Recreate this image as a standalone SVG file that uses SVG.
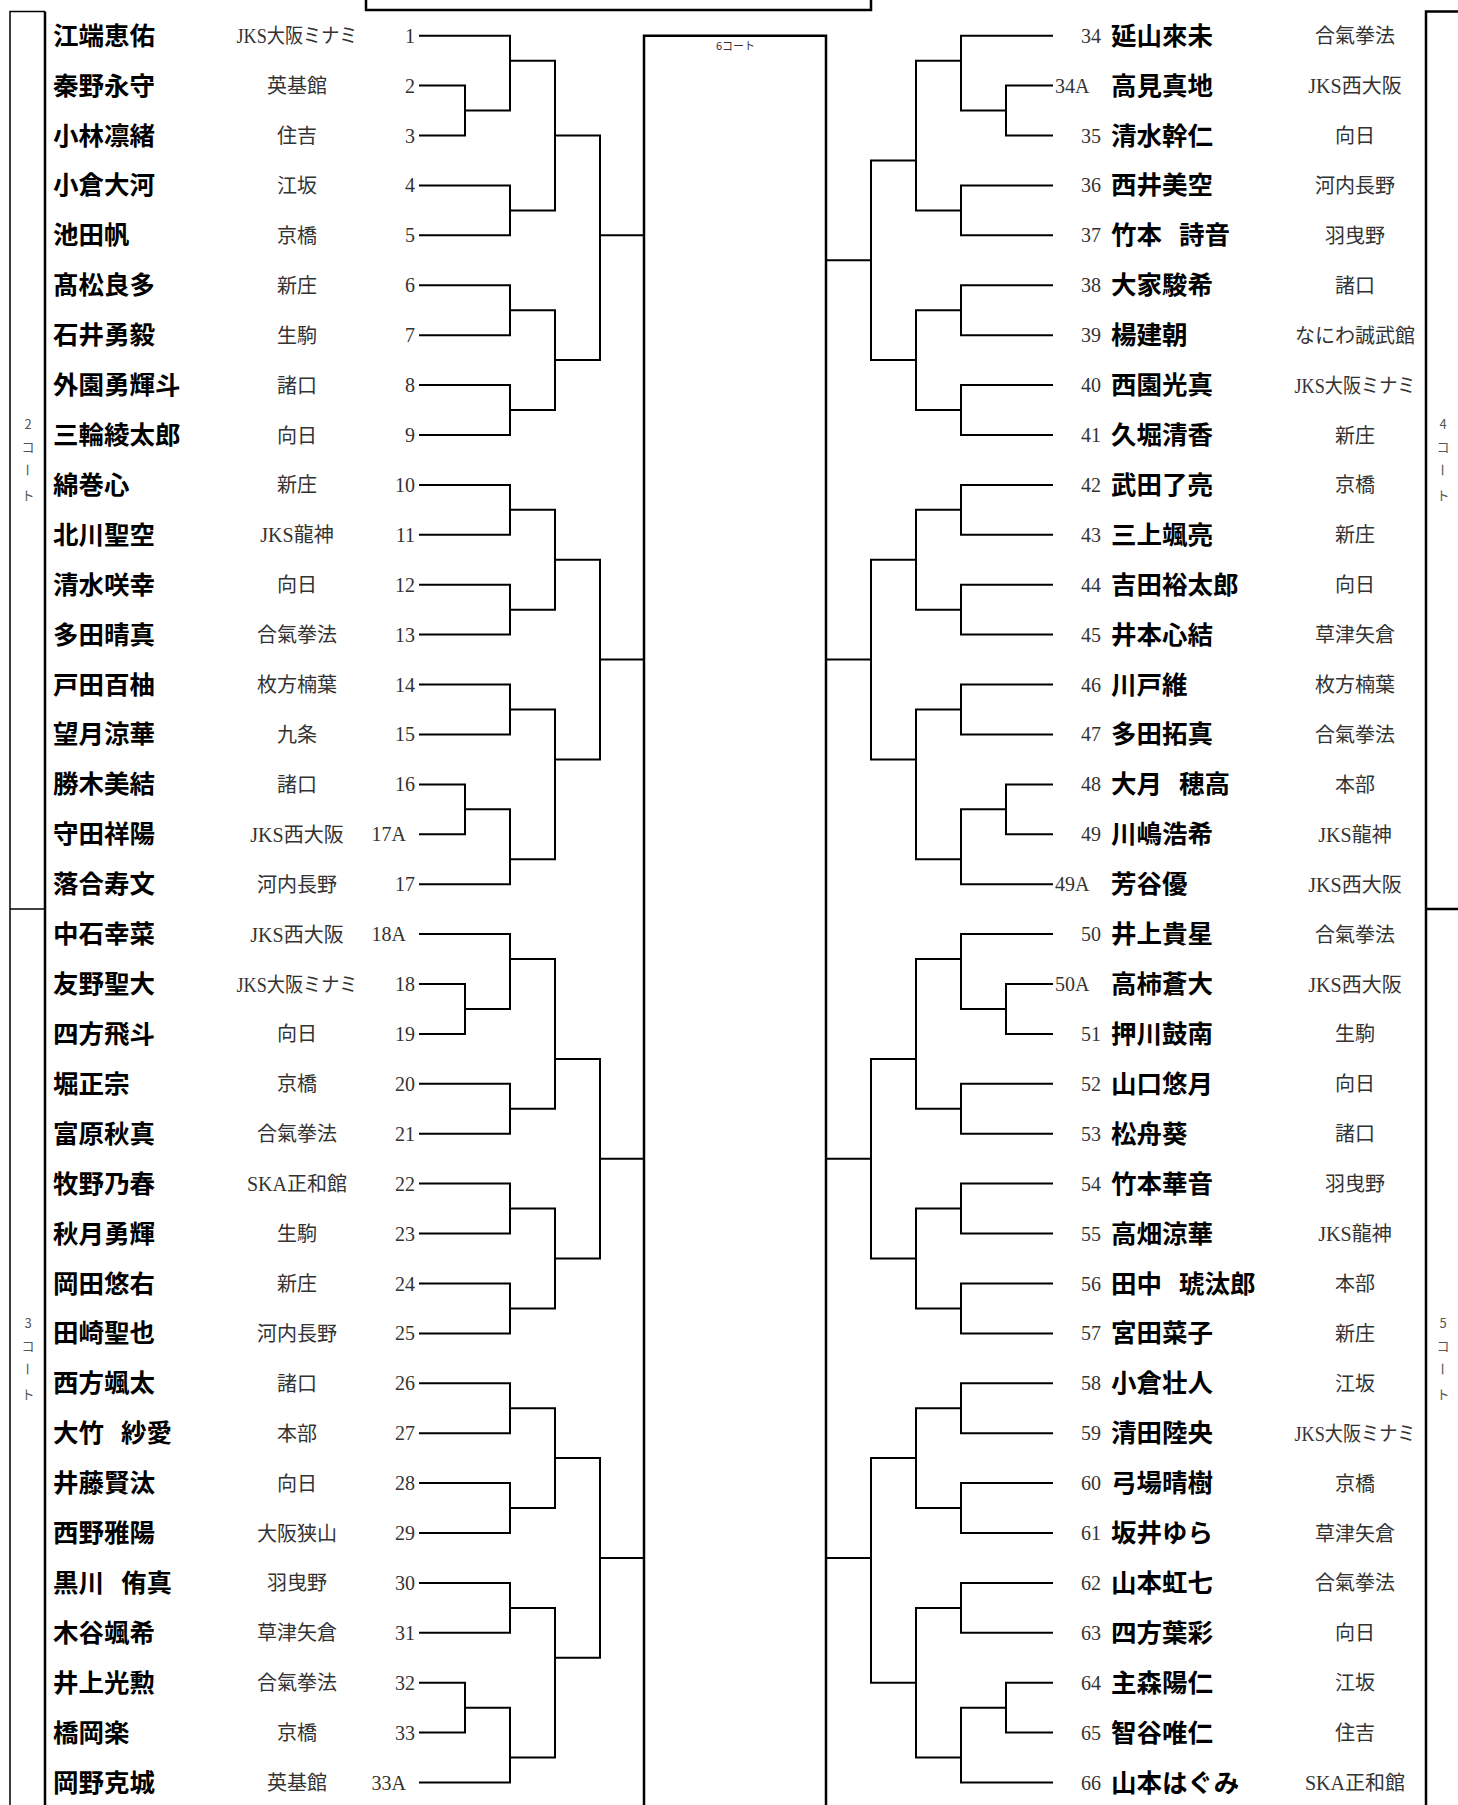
<svg xmlns="http://www.w3.org/2000/svg" width="1458" height="1805" viewBox="0 0 1458 1805">
<style>
.nm{font-family:"Noto Sans CJK JP",sans-serif;font-weight:700;font-size:25.5px;fill:#000}
.cl{font-family:"Liberation Serif","Noto Sans CJK JP",serif;font-size:20px;fill:#333;text-anchor:middle}
.no{font-family:"Liberation Serif",serif;font-size:20px;fill:#333;text-anchor:end}
.ns{font-family:"Liberation Serif",serif;font-size:20px;fill:#333;text-anchor:start}
.ct{font-family:"Noto Sans CJK JP",sans-serif;font-size:13px;fill:#555;text-anchor:middle}
.lbl{font-family:"Noto Sans CJK JP",sans-serif;font-size:11px;fill:#333}
.br{fill:none;stroke:#000;stroke-width:2;stroke-linecap:square}
.fr{fill:none;stroke:#000;stroke-width:2.5}
.fr1{fill:none;stroke:#000;stroke-width:1.5}
.sp{font-size:17px}
</style>
<rect width="1458" height="1805" fill="#fff"/>
<g id="frames">
<rect x="366" y="-50" width="505" height="60" class="fr" stroke-width="3"/>
<path class="fr" d="M644,1805V35.7H826V1805"/>
<path class="fr1" d="M10,1805V11.5H45"/>
<path class="fr" d="M45,11.5V1805"/>
<path class="fr1" d="M10,909H45"/>
<path class="fr" d="M1426,1805V11.5H1458M1426,909H1458"/>
<text class="lbl" x="716" y="50">6コート</text>
<text class="ct"><tspan x="28" y="429">2</tspan><tspan x="28" y="452">コ</tspan><tspan x="23" y="463.5" rotate="90" text-anchor="start">ー</tspan><tspan x="28" y="500">ト</tspan></text>
<text class="ct"><tspan x="28" y="1328">3</tspan><tspan x="28" y="1351">コ</tspan><tspan x="23" y="1362.5" rotate="90" text-anchor="start">ー</tspan><tspan x="28" y="1399">ト</tspan></text>
<text class="ct"><tspan x="1443" y="429">4</tspan><tspan x="1443" y="452">コ</tspan><tspan x="1438" y="463.5" rotate="90" text-anchor="start">ー</tspan><tspan x="1443" y="500">ト</tspan></text>
<text class="ct"><tspan x="1443" y="1328">5</tspan><tspan x="1443" y="1351">コ</tspan><tspan x="1438" y="1362.5" rotate="90" text-anchor="start">ー</tspan><tspan x="1443" y="1399">ト</tspan></text>
</g>
<g id="connectors">
<path class="br" d="M420,85.6H465V135.5H420M465,110.6H510M420,35.7H510V110.6M510,60.7H555M420,185.4H510V235.3H420M510,210.4H555M555,60.7V210.4M555,135.5H600M420,285.3H510V335.2H420M510,310.2H555M420,385.1H510V435H420M510,410H555M555,310.2V410M555,360.1H600M600,135.5V360.1M600,235.3H644"/>
<path class="br" d="M420,484.9H510V534.8H420M510,509.8H555M420,584.7H510V634.6H420M510,609.7H555M555,509.8V609.7M555,559.7H600M420,684.5H510V734.4H420M510,709.5H555M420,784.4H465V834.3H420M465,809.3H510M420,884.2H510V809.3M510,859.2H555M555,709.5V859.2M555,759.4H600M600,559.7V759.4M600,659.6H644"/>
<path class="br" d="M420,984H465V1033.9H420M465,1009H510M420,934.1H510V1009M510,959H555M420,1083.8H510V1133.7H420M510,1108.8H555M555,959V1108.8M555,1058.9H600M420,1183.6H510V1233.5H420M510,1208.6H555M420,1283.5H510V1333.4H420M510,1308.4H555M555,1208.6V1308.4M555,1258.5H600M600,1058.9V1258.5M600,1158.7H644"/>
<path class="br" d="M420,1383.3H510V1433.2H420M510,1408.2H555M420,1483.1H510V1533H420M510,1508.1H555M555,1408.2V1508.1M555,1458.1H600M420,1582.9H510V1632.8H420M510,1607.9H555M420,1682.7H465V1732.6H420M465,1707.7H510M420,1782.6H510V1707.7M510,1757.6H555M555,1607.9V1757.6M555,1657.8H600M600,1458.1V1657.8M600,1558H644"/>
<path class="br" d="M1052,85.6H1006V135.5H1052M1006,110.6H961M1052,35.7H961V110.6M961,60.7H916M1052,185.4H961V235.3H1052M961,210.4H916M916,60.7V210.4M916,160.5H871M1052,285.3H961V335.2H1052M961,310.2H916M1052,385.1H961V435H1052M961,410H916M916,310.2V410M916,360.1H871M871,160.5V360.1M871,260.3H826"/>
<path class="br" d="M1052,484.9H961V534.8H1052M961,509.8H916M1052,584.7H961V634.6H1052M961,609.7H916M916,509.8V609.7M916,559.7H871M1052,684.5H961V734.4H1052M961,709.5H916M1052,784.4H1006V834.3H1052M1006,809.3H961M1052,884.2H961V809.3M961,859.2H916M916,709.5V859.2M916,759.4H871M871,559.7V759.4M871,659.6H826"/>
<path class="br" d="M1052,984H1006V1033.9H1052M1006,1009H961M1052,934.1H961V1009M961,959H916M1052,1083.8H961V1133.7H1052M961,1108.8H916M916,959V1108.8M916,1058.9H871M1052,1183.6H961V1233.5H1052M961,1208.6H916M1052,1283.5H961V1333.4H1052M961,1308.4H916M916,1208.6V1308.4M916,1258.5H871M871,1058.9V1258.5M871,1158.7H826"/>
<path class="br" d="M1052,1383.3H961V1433.2H1052M961,1408.2H916M1052,1483.1H961V1533H1052M961,1508.1H916M916,1408.2V1508.1M916,1458.1H871M1052,1582.9H961V1632.8H1052M961,1607.9H916M1052,1682.7H1006V1732.6H1052M1006,1707.7H961M1052,1782.6H961V1707.7M961,1757.6H916M916,1607.9V1757.6M916,1682.7H871M871,1458.1V1682.7M871,1558H826"/>
</g>
<g id="L1" transform="translate(0,35.7)"><text class="nm" x="53" y="9">江端恵佑</text><text class="cl" x="297" y="7.5" textLength="121" lengthAdjust="spacingAndGlyphs">JKS大阪ミナミ</text><text class="no" x="415" y="7">1</text></g>
<g id="L2" transform="translate(0,85.6)"><text class="nm" x="53" y="9">秦野永守</text><text class="cl" x="297" y="7.5">英基館</text><text class="no" x="415" y="7">2</text></g>
<g id="L3" transform="translate(0,135.5)"><text class="nm" x="53" y="9">小林凛緒</text><text class="cl" x="297" y="7.5">住吉</text><text class="no" x="415" y="7">3</text></g>
<g id="L4" transform="translate(0,185.4)"><text class="nm" x="53" y="9">小倉大河</text><text class="cl" x="297" y="7.5">江坂</text><text class="no" x="415" y="7">4</text></g>
<g id="L5" transform="translate(0,235.3)"><text class="nm" x="53" y="9">池田帆</text><text class="cl" x="297" y="7.5">京橋</text><text class="no" x="415" y="7">5</text></g>
<g id="L6" transform="translate(0,285.3)"><text class="nm" x="53" y="9">髙松良多</text><text class="cl" x="297" y="7.5">新庄</text><text class="no" x="415" y="7">6</text></g>
<g id="L7" transform="translate(0,335.2)"><text class="nm" x="53" y="9">石井勇毅</text><text class="cl" x="297" y="7.5">生駒</text><text class="no" x="415" y="7">7</text></g>
<g id="L8" transform="translate(0,385.1)"><text class="nm" x="53" y="9">外園勇輝斗</text><text class="cl" x="297" y="7.5">諸口</text><text class="no" x="415" y="7">8</text></g>
<g id="L9" transform="translate(0,435)"><text class="nm" x="53" y="9">三輪綾太郎</text><text class="cl" x="297" y="7.5">向日</text><text class="no" x="415" y="7">9</text></g>
<g id="L10" transform="translate(0,484.9)"><text class="nm" x="53" y="9">綿巻心</text><text class="cl" x="297" y="7.5">新庄</text><text class="no" x="415" y="7">10</text></g>
<g id="L11" transform="translate(0,534.8)"><text class="nm" x="53" y="9">北川聖空</text><text class="cl" x="297" y="7.5">JKS龍神</text><text class="no" x="415" y="7">11</text></g>
<g id="L12" transform="translate(0,584.7)"><text class="nm" x="53" y="9">清水咲幸</text><text class="cl" x="297" y="7.5">向日</text><text class="no" x="415" y="7">12</text></g>
<g id="L13" transform="translate(0,634.6)"><text class="nm" x="53" y="9">多田晴真</text><text class="cl" x="297" y="7.5">合氣拳法</text><text class="no" x="415" y="7">13</text></g>
<g id="L14" transform="translate(0,684.5)"><text class="nm" x="53" y="9">戸田百柚</text><text class="cl" x="297" y="7.5">枚方楠葉</text><text class="no" x="415" y="7">14</text></g>
<g id="L15" transform="translate(0,734.4)"><text class="nm" x="53" y="9">望月涼華</text><text class="cl" x="297" y="7.5">九条</text><text class="no" x="415" y="7">15</text></g>
<g id="L16" transform="translate(0,784.4)"><text class="nm" x="53" y="9">勝木美結</text><text class="cl" x="297" y="7.5">諸口</text><text class="no" x="415" y="7">16</text></g>
<g id="L17A" transform="translate(0,834.3)"><text class="nm" x="53" y="9">守田祥陽</text><text class="cl" x="297" y="7.5">JKS西大阪</text><text class="no" x="406" y="7">17A</text></g>
<g id="L17" transform="translate(0,884.2)"><text class="nm" x="53" y="9">落合寿文</text><text class="cl" x="297" y="7.5">河内長野</text><text class="no" x="415" y="7">17</text></g>
<g id="L18A" transform="translate(0,934.1)"><text class="nm" x="53" y="9">中石幸菜</text><text class="cl" x="297" y="7.5">JKS西大阪</text><text class="no" x="406" y="7">18A</text></g>
<g id="L18" transform="translate(0,984)"><text class="nm" x="53" y="9">友野聖大</text><text class="cl" x="297" y="7.5" textLength="121" lengthAdjust="spacingAndGlyphs">JKS大阪ミナミ</text><text class="no" x="415" y="7">18</text></g>
<g id="L19" transform="translate(0,1033.9)"><text class="nm" x="53" y="9">四方飛斗</text><text class="cl" x="297" y="7.5">向日</text><text class="no" x="415" y="7">19</text></g>
<g id="L20" transform="translate(0,1083.8)"><text class="nm" x="53" y="9">堀正宗</text><text class="cl" x="297" y="7.5">京橋</text><text class="no" x="415" y="7">20</text></g>
<g id="L21" transform="translate(0,1133.7)"><text class="nm" x="53" y="9">富原秋真</text><text class="cl" x="297" y="7.5">合氣拳法</text><text class="no" x="415" y="7">21</text></g>
<g id="L22" transform="translate(0,1183.6)"><text class="nm" x="53" y="9">牧野乃春</text><text class="cl" x="297" y="7.5">SKA正和館</text><text class="no" x="415" y="7">22</text></g>
<g id="L23" transform="translate(0,1233.5)"><text class="nm" x="53" y="9">秋月勇輝</text><text class="cl" x="297" y="7.5">生駒</text><text class="no" x="415" y="7">23</text></g>
<g id="L24" transform="translate(0,1283.5)"><text class="nm" x="53" y="9">岡田悠右</text><text class="cl" x="297" y="7.5">新庄</text><text class="no" x="415" y="7">24</text></g>
<g id="L25" transform="translate(0,1333.4)"><text class="nm" x="53" y="9">田崎聖也</text><text class="cl" x="297" y="7.5">河内長野</text><text class="no" x="415" y="7">25</text></g>
<g id="L26" transform="translate(0,1383.3)"><text class="nm" x="53" y="9">西方颯太</text><text class="cl" x="297" y="7.5">諸口</text><text class="no" x="415" y="7">26</text></g>
<g id="L27" transform="translate(0,1433.2)"><text class="nm" x="53" y="9">大竹<tspan class="sp">　</tspan>紗愛</text><text class="cl" x="297" y="7.5">本部</text><text class="no" x="415" y="7">27</text></g>
<g id="L28" transform="translate(0,1483.1)"><text class="nm" x="53" y="9">井藤賢汰</text><text class="cl" x="297" y="7.5">向日</text><text class="no" x="415" y="7">28</text></g>
<g id="L29" transform="translate(0,1533)"><text class="nm" x="53" y="9">西野雅陽</text><text class="cl" x="297" y="7.5">大阪狭山</text><text class="no" x="415" y="7">29</text></g>
<g id="L30" transform="translate(0,1582.9)"><text class="nm" x="53" y="9">黒川<tspan class="sp">　</tspan>侑真</text><text class="cl" x="297" y="7.5">羽曳野</text><text class="no" x="415" y="7">30</text></g>
<g id="L31" transform="translate(0,1632.8)"><text class="nm" x="53" y="9">木谷颯希</text><text class="cl" x="297" y="7.5">草津矢倉</text><text class="no" x="415" y="7">31</text></g>
<g id="L32" transform="translate(0,1682.7)"><text class="nm" x="53" y="9">井上光勲</text><text class="cl" x="297" y="7.5">合氣拳法</text><text class="no" x="415" y="7">32</text></g>
<g id="L33" transform="translate(0,1732.6)"><text class="nm" x="53" y="9">橋岡楽</text><text class="cl" x="297" y="7.5">京橋</text><text class="no" x="415" y="7">33</text></g>
<g id="L33A" transform="translate(0,1782.6)"><text class="nm" x="53" y="9">岡野克城</text><text class="cl" x="297" y="7.5">英基館</text><text class="no" x="406" y="7">33A</text></g>
<g id="R34" transform="translate(0,35.7)"><text class="no" x="1101" y="7">34</text><text class="nm" x="1111" y="9">延山來未</text><text class="cl" x="1355" y="7.5">合氣拳法</text></g>
<g id="R34A" transform="translate(0,85.6)"><text class="ns" x="1055" y="7">34A</text><text class="nm" x="1111" y="9">高見真地</text><text class="cl" x="1355" y="7.5">JKS西大阪</text></g>
<g id="R35" transform="translate(0,135.5)"><text class="no" x="1101" y="7">35</text><text class="nm" x="1111" y="9">清水幹仁</text><text class="cl" x="1355" y="7.5">向日</text></g>
<g id="R36" transform="translate(0,185.4)"><text class="no" x="1101" y="7">36</text><text class="nm" x="1111" y="9">西井美空</text><text class="cl" x="1355" y="7.5">河内長野</text></g>
<g id="R37" transform="translate(0,235.3)"><text class="no" x="1101" y="7">37</text><text class="nm" x="1111" y="9">竹本<tspan class="sp">　</tspan>詩音</text><text class="cl" x="1355" y="7.5">羽曳野</text></g>
<g id="R38" transform="translate(0,285.3)"><text class="no" x="1101" y="7">38</text><text class="nm" x="1111" y="9">大家駿希</text><text class="cl" x="1355" y="7.5">諸口</text></g>
<g id="R39" transform="translate(0,335.2)"><text class="no" x="1101" y="7">39</text><text class="nm" x="1111" y="9">楊建朝</text><text class="cl" x="1355" y="7.5">なにわ誠武館</text></g>
<g id="R40" transform="translate(0,385.1)"><text class="no" x="1101" y="7">40</text><text class="nm" x="1111" y="9">西園光真</text><text class="cl" x="1355" y="7.5" textLength="121" lengthAdjust="spacingAndGlyphs">JKS大阪ミナミ</text></g>
<g id="R41" transform="translate(0,435)"><text class="no" x="1101" y="7">41</text><text class="nm" x="1111" y="9">久堀清香</text><text class="cl" x="1355" y="7.5">新庄</text></g>
<g id="R42" transform="translate(0,484.9)"><text class="no" x="1101" y="7">42</text><text class="nm" x="1111" y="9">武田了亮</text><text class="cl" x="1355" y="7.5">京橋</text></g>
<g id="R43" transform="translate(0,534.8)"><text class="no" x="1101" y="7">43</text><text class="nm" x="1111" y="9">三上颯亮</text><text class="cl" x="1355" y="7.5">新庄</text></g>
<g id="R44" transform="translate(0,584.7)"><text class="no" x="1101" y="7">44</text><text class="nm" x="1111" y="9">吉田裕太郎</text><text class="cl" x="1355" y="7.5">向日</text></g>
<g id="R45" transform="translate(0,634.6)"><text class="no" x="1101" y="7">45</text><text class="nm" x="1111" y="9">井本心結</text><text class="cl" x="1355" y="7.5">草津矢倉</text></g>
<g id="R46" transform="translate(0,684.5)"><text class="no" x="1101" y="7">46</text><text class="nm" x="1111" y="9">川戸維</text><text class="cl" x="1355" y="7.5">枚方楠葉</text></g>
<g id="R47" transform="translate(0,734.4)"><text class="no" x="1101" y="7">47</text><text class="nm" x="1111" y="9">多田拓真</text><text class="cl" x="1355" y="7.5">合氣拳法</text></g>
<g id="R48" transform="translate(0,784.4)"><text class="no" x="1101" y="7">48</text><text class="nm" x="1111" y="9">大月<tspan class="sp">　</tspan>穂高</text><text class="cl" x="1355" y="7.5">本部</text></g>
<g id="R49" transform="translate(0,834.3)"><text class="no" x="1101" y="7">49</text><text class="nm" x="1111" y="9">川嶋浩希</text><text class="cl" x="1355" y="7.5">JKS龍神</text></g>
<g id="R49A" transform="translate(0,884.2)"><text class="ns" x="1055" y="7">49A</text><text class="nm" x="1111" y="9">芳谷優</text><text class="cl" x="1355" y="7.5">JKS西大阪</text></g>
<g id="R50" transform="translate(0,934.1)"><text class="no" x="1101" y="7">50</text><text class="nm" x="1111" y="9">井上貴星</text><text class="cl" x="1355" y="7.5">合氣拳法</text></g>
<g id="R50A" transform="translate(0,984)"><text class="ns" x="1055" y="7">50A</text><text class="nm" x="1111" y="9">高柿蒼大</text><text class="cl" x="1355" y="7.5">JKS西大阪</text></g>
<g id="R51" transform="translate(0,1033.9)"><text class="no" x="1101" y="7">51</text><text class="nm" x="1111" y="9">押川鼓南</text><text class="cl" x="1355" y="7.5">生駒</text></g>
<g id="R52" transform="translate(0,1083.8)"><text class="no" x="1101" y="7">52</text><text class="nm" x="1111" y="9">山口悠月</text><text class="cl" x="1355" y="7.5">向日</text></g>
<g id="R53" transform="translate(0,1133.7)"><text class="no" x="1101" y="7">53</text><text class="nm" x="1111" y="9">松舟葵</text><text class="cl" x="1355" y="7.5">諸口</text></g>
<g id="R54" transform="translate(0,1183.6)"><text class="no" x="1101" y="7">54</text><text class="nm" x="1111" y="9">竹本華音</text><text class="cl" x="1355" y="7.5">羽曳野</text></g>
<g id="R55" transform="translate(0,1233.5)"><text class="no" x="1101" y="7">55</text><text class="nm" x="1111" y="9">高畑涼華</text><text class="cl" x="1355" y="7.5">JKS龍神</text></g>
<g id="R56" transform="translate(0,1283.5)"><text class="no" x="1101" y="7">56</text><text class="nm" x="1111" y="9">田中<tspan class="sp">　</tspan>琥汰郎</text><text class="cl" x="1355" y="7.5">本部</text></g>
<g id="R57" transform="translate(0,1333.4)"><text class="no" x="1101" y="7">57</text><text class="nm" x="1111" y="9">宮田菜子</text><text class="cl" x="1355" y="7.5">新庄</text></g>
<g id="R58" transform="translate(0,1383.3)"><text class="no" x="1101" y="7">58</text><text class="nm" x="1111" y="9">小倉壮人</text><text class="cl" x="1355" y="7.5">江坂</text></g>
<g id="R59" transform="translate(0,1433.2)"><text class="no" x="1101" y="7">59</text><text class="nm" x="1111" y="9">清田陸央</text><text class="cl" x="1355" y="7.5" textLength="121" lengthAdjust="spacingAndGlyphs">JKS大阪ミナミ</text></g>
<g id="R60" transform="translate(0,1483.1)"><text class="no" x="1101" y="7">60</text><text class="nm" x="1111" y="9">弓場晴樹</text><text class="cl" x="1355" y="7.5">京橋</text></g>
<g id="R61" transform="translate(0,1533)"><text class="no" x="1101" y="7">61</text><text class="nm" x="1111" y="9">坂井ゆら</text><text class="cl" x="1355" y="7.5">草津矢倉</text></g>
<g id="R62" transform="translate(0,1582.9)"><text class="no" x="1101" y="7">62</text><text class="nm" x="1111" y="9">山本虹七</text><text class="cl" x="1355" y="7.5">合氣拳法</text></g>
<g id="R63" transform="translate(0,1632.8)"><text class="no" x="1101" y="7">63</text><text class="nm" x="1111" y="9">四方葉彩</text><text class="cl" x="1355" y="7.5">向日</text></g>
<g id="R64" transform="translate(0,1682.7)"><text class="no" x="1101" y="7">64</text><text class="nm" x="1111" y="9">主森陽仁</text><text class="cl" x="1355" y="7.5">江坂</text></g>
<g id="R65" transform="translate(0,1732.6)"><text class="no" x="1101" y="7">65</text><text class="nm" x="1111" y="9">智谷唯仁</text><text class="cl" x="1355" y="7.5">住吉</text></g>
<g id="R66" transform="translate(0,1782.6)"><text class="no" x="1101" y="7">66</text><text class="nm" x="1111" y="9">山本はぐみ</text><text class="cl" x="1355" y="7.5">SKA正和館</text></g>
</svg>
